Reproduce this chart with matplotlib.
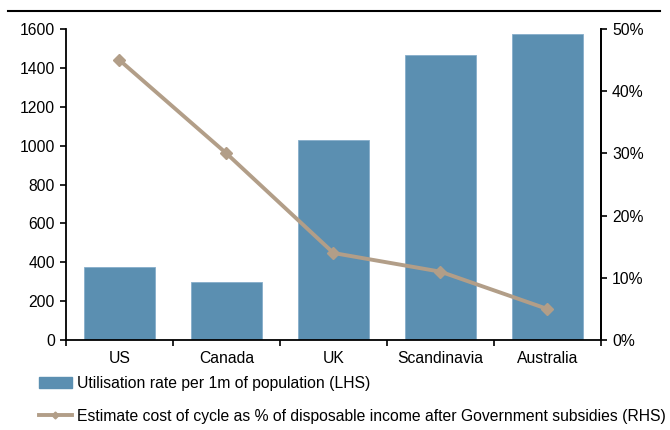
import numpy as np
import matplotlib
matplotlib.use('Agg')
import matplotlib.pyplot as plt
from matplotlib.lines import Line2D
from matplotlib.ticker import FuncFormatter

## Bicycle utilisation vs cost of cycle by country

countries = ['US', 'Canada', 'UK', 'Scandinavia', 'Australia']
utilisation = [374, 298, 1028, 1465, 1576]      # per 1m of population (LHS)
cost_pct = [45, 30, 14, 11, 5]                   # % of disposable income (RHS)

bar_label = 'Utilisation rate per 1m of population (LHS)'
line_label = 'Estimate cost of cycle as % of disposable income after Government subsidies (RHS)'

bar_col = '#5b8fb1'
line_col = '#b29e88'

plt.rcParams['font.family'] = ['Liberation Sans', 'DejaVu Sans']
plt.rcParams['font.size'] = 11.3

fig = plt.figure(figsize=(6.7, 4.3), dpi=100, facecolor='white')
ax = fig.add_axes([0.0985, 0.209, 0.7985, 0.7235])
x = np.arange(len(countries))

ax.bar(x, utilisation, width=0.66, color=bar_col, edgecolor='#86aecb', linewidth=0.6, zorder=2)
ax.set_xlim(-0.5, len(countries) - 0.5)
ax.set_ylim(0, 1600)
ax.set_yticks(np.arange(0, 1601, 200))
ax.set_xticks(x)
ax.set_xticklabels(countries)
ax.set_xticks(np.arange(-0.5, len(countries), 1.0), minor=True)
ax.tick_params(axis='x', which='major', length=0, pad=8)
ax.tick_params(axis='x', which='minor', length=4, width=1.2, direction='out')
ax.tick_params(axis='y', length=4, width=1.2, direction='out', pad=4)
ax.spines['top'].set_visible(False)
for s in ['left', 'bottom', 'right']:
    ax.spines[s].set_linewidth(1.3)

# right hand side axis
ax2 = ax.twinx()
ax2.plot(x, cost_pct, color=line_col, lw=2.8, marker='D', markersize=6.5,
         markerfacecolor=line_col, markeredgecolor=line_col, zorder=3)
ax2.set_ylim(0, 50)
ax2.set_yticks(np.arange(0, 51, 10))
ax2.yaxis.set_major_formatter(FuncFormatter(lambda v, p: '%d%%' % v))
ax2.tick_params(axis='y', length=4, width=1.2, direction='out', pad=4)
ax2.spines['top'].set_visible(False)
ax2.spines['right'].set_linewidth(1.3)
ax2.spines['left'].set_visible(False)
ax2.spines['bottom'].set_visible(False)

# rule across the top
fig.add_artist(Line2D([8 / 670., 660 / 670.], [1 - 11 / 430., 1 - 11 / 430.],
                      color='black', lw=1.5, transform=fig.transFigure))

handles = [plt.Rectangle((0, 0), 1, 1, color=bar_col),
           Line2D([], [], color=line_col, lw=2.8, marker='D', markersize=3.5)]
fig.legend(handles, [bar_label, line_label], loc='upper left',
           bbox_to_anchor=(0.058, 0.126), frameon=False, borderpad=0,
           borderaxespad=0, handlelength=2.1, handletextpad=0.3,
           labelspacing=1.15, fontsize=11.3)

fig.savefig('out.png', dpi=100, facecolor='white')
